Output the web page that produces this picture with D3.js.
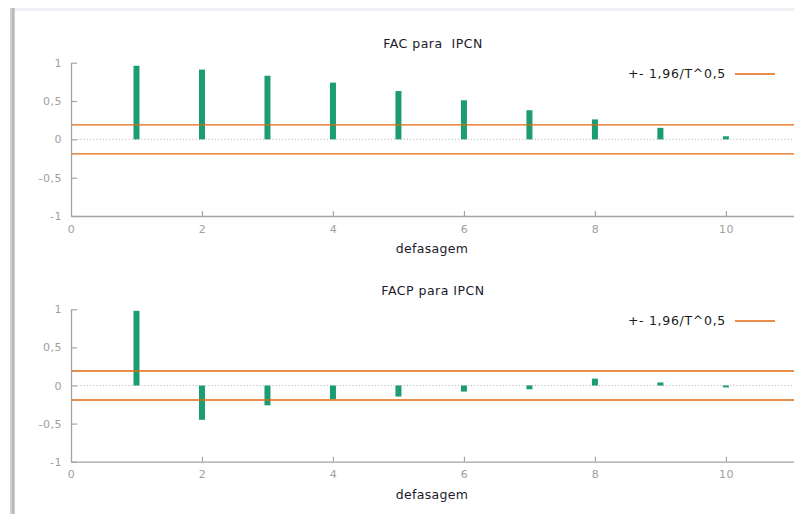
<!DOCTYPE html>
<html>
<head>
<meta charset="utf-8">
<script src="https://cdn.jsdelivr.net/npm/d3@7"></script>
<style>
  body { margin: 0; background: #fff; }
  svg { display: block; }
  text { font-family: "DejaVu Sans", Verdana, sans-serif; }
</style>
</head>
<body>
<svg id="chart" width="794" height="514"></svg>
<script>
// Correlogram values for IPCN, lags 1..10
const lags = [1, 2, 3, 4, 5, 6, 7, 8, 9, 10];
const facValues = [0.96, 0.91, 0.83, 0.74, 0.63, 0.51, 0.38, 0.26, 0.15, 0.04];
const facpValues = [0.98, -0.45, -0.26, -0.18, -0.145, -0.08, -0.05, 0.09, 0.04, -0.025];
const confBand = 0.19;               // +- 1,96/T^0,5
const xTicks = [0, 2, 4, 6, 8, 10];
const yTicks = [-1, -0.5, 0, 0.5, 1];
const yTickLabels = ["-1", "-0,5", "0", "0,5", "1"];
const titles = ["FAC para  IPCN", "FACP para IPCN"];
const legendLabel = "+- 1,96/T^0,5";
const xAxisTitle = "defasagem";

const W = 794, H = 514;
const svg = d3.select("#chart");

const BAR = "#1b9c75", BAND = "#e0690f", AXIS = "#a4a4a4", TICKTXT = "#a0a0a0";

// window frame pieces around the plot
svg.append("rect").attr("x", 0).attr("y", 0).attr("width", W).attr("height", H).attr("fill", "#fff");
svg.append("rect").attr("x", 15).attr("y", 8).attr("width", W - 15).attr("height", 3).attr("fill", "#edf1f6");
svg.append("rect").attr("x", 10).attr("y", 8).attr("width", 5).attr("height", H - 8).attr("fill", "#cfcfcf");
svg.append("rect").attr("x", 12).attr("y", 8).attr("width", 2).attr("height", H - 8).attr("fill", "#b9b9b9");

const x = d3.scaleLinear().domain([0, 11.04]).range([71, 794]);

const panels = [
  { title: titles[0], values: facValues, top: 62.7, bottom: 216, titleY: 44, legendY: 74 },
  { title: titles[1], values: facpValues, top: 309.3, bottom: 461.7, titleY: 291, legendY: 321 }
];

panels.forEach(p => {
  const y = d3.scaleLinear().domain([-1, 1]).range([p.bottom, p.top]);
  const g = svg.append("g");

  // title
  g.append("text").attr("x", 433).attr("y", p.titleY).attr("dy", "0.35em")
    .attr("text-anchor", "middle").attr("font-size", 12.5).attr("fill", "#1a1a2a")
    .attr("letter-spacing", 0.5).attr("xml:space", "preserve").style("white-space", "pre")
    .text(p.title);

  // zero reference line
  g.append("line").attr("x1", x(0)).attr("x2", W).attr("y1", y(0)).attr("y2", y(0))
    .attr("stroke", "#b0b0b0").attr("stroke-width", 1).attr("stroke-dasharray", "1,2.2");

  // correlation bars
  g.selectAll("rect.bar").data(lags).join("rect").attr("class", "bar")
    .attr("x", d => x(d) - 3).attr("width", 6)
    .attr("y", (d, i) => y(Math.max(p.values[i], 0)))
    .attr("height", (d, i) => Math.abs(y(p.values[i]) - y(0)))
    .attr("fill", BAR);

  // confidence band
  [confBand, -confBand].forEach(v => {
    g.append("line").attr("x1", x(0)).attr("x2", W).attr("y1", y(v)).attr("y2", y(v))
      .attr("stroke", BAND).attr("stroke-width", 1.3);
  });

  // axes
  const yAxis = d3.axisLeft(y).tickValues(yTicks)
    .tickFormat((d, i) => yTickLabels[i]).tickSizeInner(-6).tickSizeOuter(0).tickPadding(9);
  const ya = g.append("g").attr("transform", `translate(${x(0)},0)`).call(yAxis);

  const xAxis = d3.axisBottom(x).tickValues(xTicks).tickFormat(d3.format("d"))
    .tickSizeInner(-5).tickSizeOuter(0).tickPadding(9);
  const xa = g.append("g").attr("transform", `translate(0,${p.bottom})`).call(xAxis);

  [ya, xa].forEach(a => {
    a.select(".domain").attr("stroke", AXIS).attr("stroke-width", 1.3);
    a.selectAll(".tick line").attr("stroke", AXIS).attr("stroke-width", 1.2);
    a.selectAll(".tick text").attr("fill", TICKTXT).attr("font-size", 11)
      .attr("font-family", "'DejaVu Sans', Verdana, sans-serif").attr("letter-spacing", 0.5);
  });
  xa.selectAll(".tick").filter(d => d === 0).select("line").remove();

  // x axis title
  g.append("text").attr("x", 432).attr("y", p.bottom + 33).attr("dy", "0.35em")
    .attr("text-anchor", "middle").attr("font-size", 12.5).attr("fill", "#1a1a2a")
    .attr("letter-spacing", 0.3).text(xAxisTitle);

  // legend
  g.append("text").attr("x", 726).attr("y", p.legendY).attr("dy", "0.35em")
    .attr("text-anchor", "end").attr("font-size", 12.5).attr("fill", "#1a1a1a")
    .attr("letter-spacing", 0.7).text(legendLabel);
  g.append("line").attr("x1", 735).attr("x2", 775).attr("y1", p.legendY).attr("y2", p.legendY)
    .attr("stroke", BAND).attr("stroke-width", 1.3);
});
</script>
</body>
</html>
